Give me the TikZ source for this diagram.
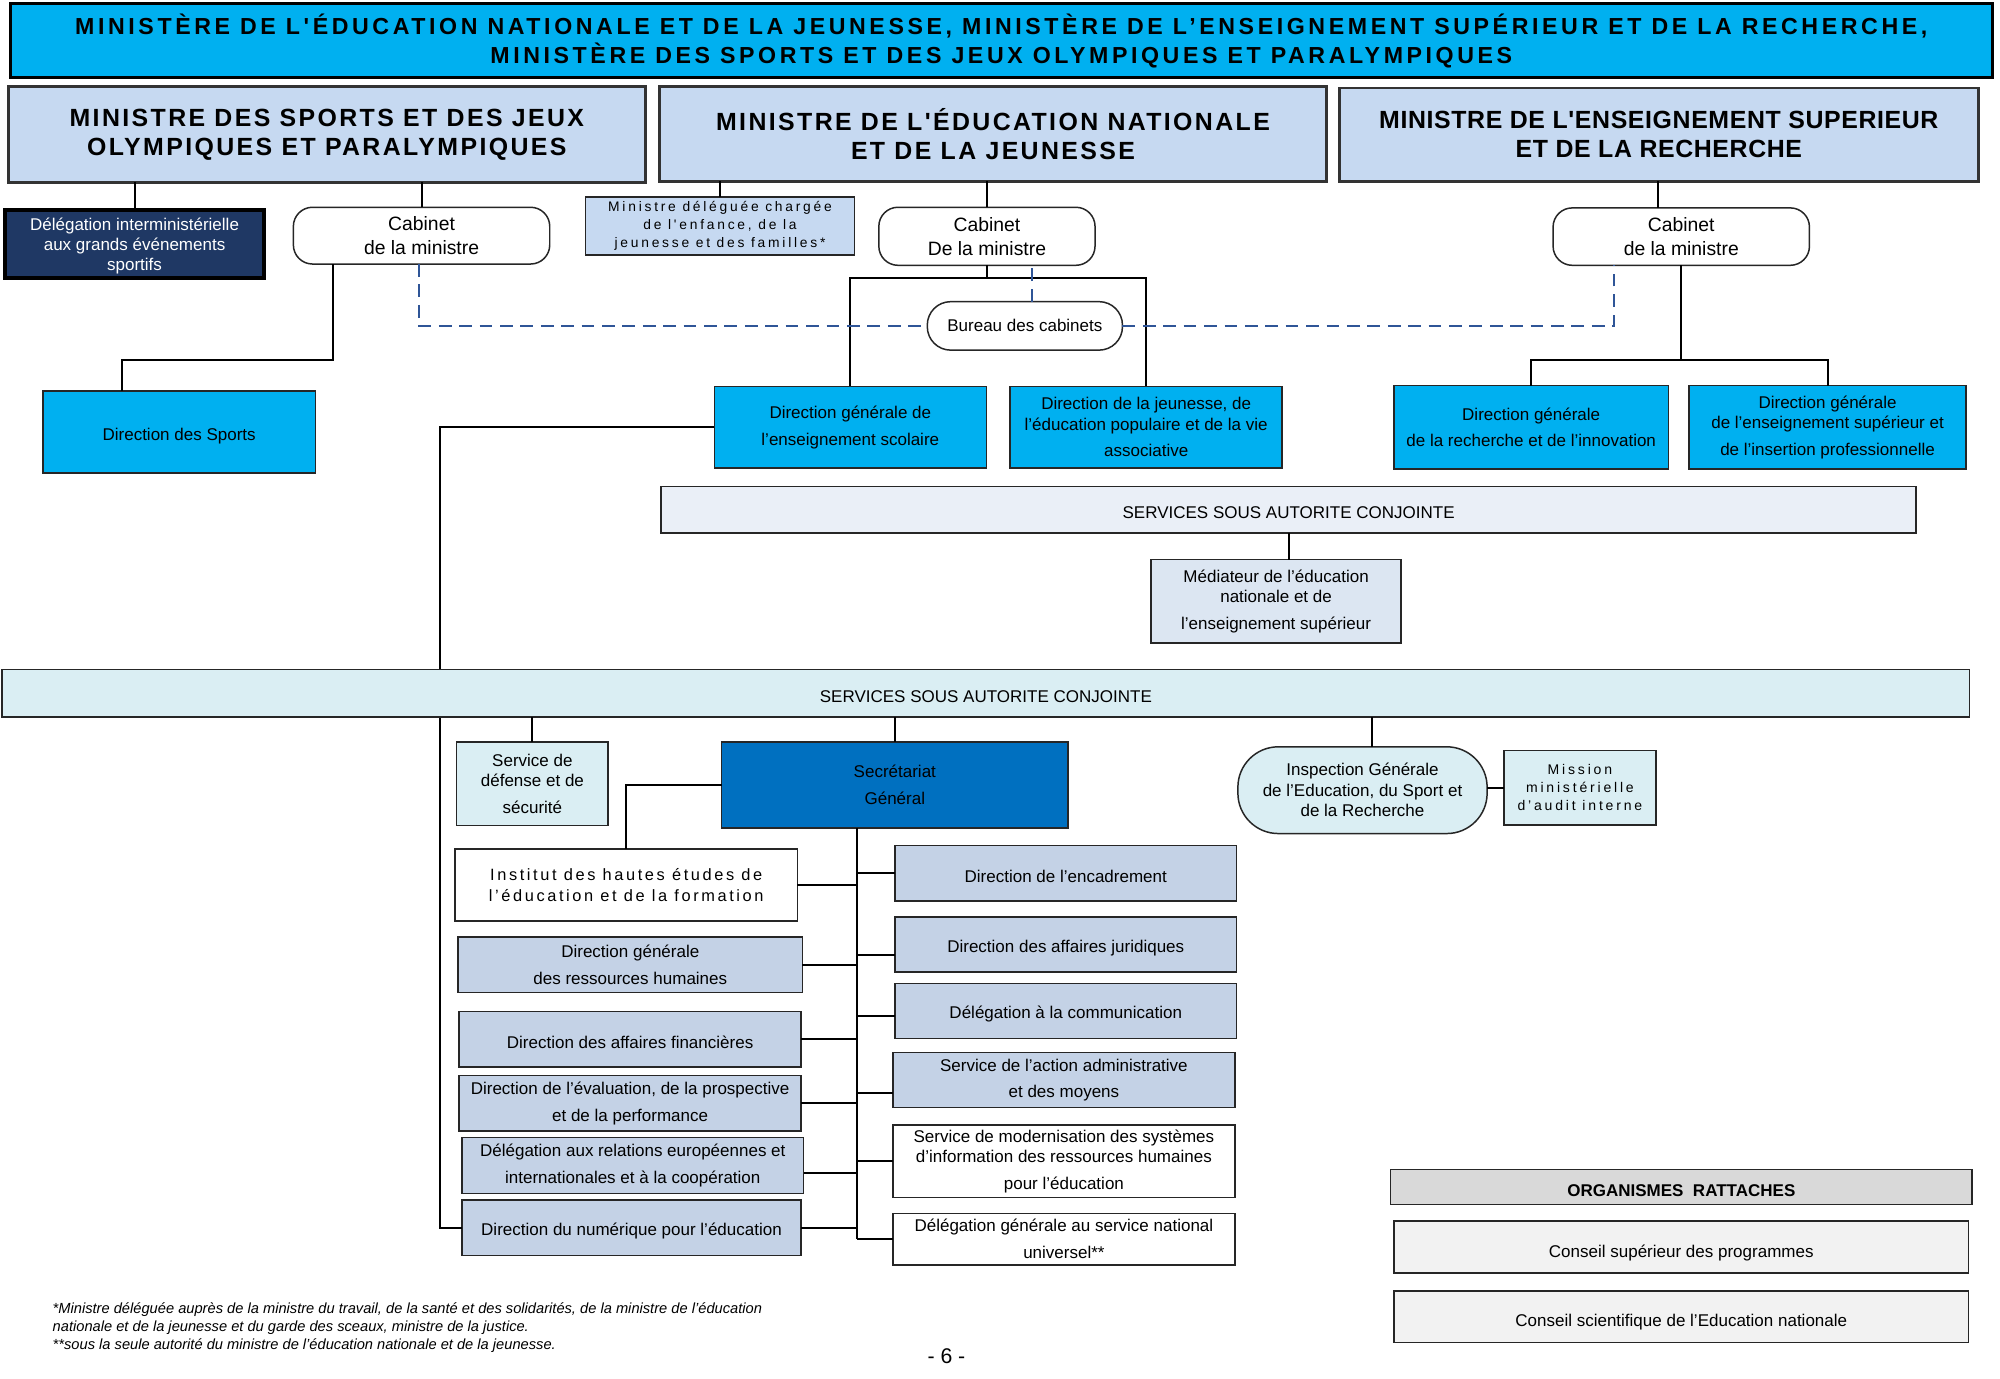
\documentclass[tikz,border=0pt]{standalone}
\usepackage{fontspec}
\setmainfont{Liberation Sans}
\newfontfamily\fTitle{Liberation Sans}[LetterSpace=15.5]
\newfontfamily\fMin{Liberation Sans}[LetterSpace=9.6]
\newfontfamily\fMinB{Liberation Sans}[LetterSpace=2.5]
\newfontfamily\fWide{Liberation Sans}[LetterSpace=20]
\newfontfamily\fInst{Liberation Sans}[LetterSpace=16]
\definecolor{cyanC}{HTML}{00B0F0}
\definecolor{minC}{HTML}{C6D9F1}
\definecolor{navyC}{HTML}{1F3864}
\definecolor{bar1C}{HTML}{EAEFF7}
\definecolor{medC}{HTML}{DCE6F2}
\definecolor{ltcyanC}{HTML}{DAEEF3}
\definecolor{sgC}{HTML}{0070C0}
\definecolor{gbC}{HTML}{C4D2E6}
\definecolor{orgHC}{HTML}{D9D9D9}
\definecolor{orgIC}{HTML}{F2F2F2}
\definecolor{dashC}{HTML}{2F5597}
\newcommand\mkbox[7]{\node[#6,minimum width={(#4-#2)*0.6pt},minimum height={(#5-#3)*0.6pt}] (#1) at ({(#2+#4)/2},{(#3+#5)/2}) {#7};}
\newcommand\lowr[2]{\raisebox{-#1}[\height][\depth]{#2}}
\begin{document}
\begin{tikzpicture}[x=0.6pt,y=-0.6pt,
  base/.style={draw=black!85, line width=0.7pt, inner sep=1pt, outer sep=0pt, align=center, font=\fontsize{8}{9.6}\selectfont},
  titlebox/.style={base, fill=cyanC, draw=black, line width=1.4pt, font=\fTitle\bfseries\fontsize{10.9}{13.8}\selectfont},
  minbox/.style={base, fill=minC, draw=black!80, line width=1.4pt, font=\fMin\bfseries\fontsize{11.7}{13.8}\selectfont},
  minboxB/.style={minbox, font=\fMinB\bfseries\fontsize{11.7}{13.8}\selectfont},
  navybox/.style={base, fill=navyC, draw=black, line width=1.6pt, text=white},
  cabbox/.style={base, fill=white, rounded corners=9pt, font=\fontsize{9.1}{11.4}\selectfont},
  mdelbox/.style={base, fill=minC, font=\fWide\fontsize{6.5}{8.4}\selectfont},
  burbox/.style={base, fill=white, rounded corners=11pt},
  cyanbox/.style={base, fill=cyanC},
  bar1/.style={base, fill=bar1C},
  medbox/.style={base, fill=medC},
  bar2/.style={base, fill=ltcyanC},
  ltcyan/.style={base, fill=ltcyanC},
  sgbox/.style={base, fill=sgC},
  igbox/.style={base, fill=ltcyanC, rounded corners=19pt},
  misbox/.style={base, fill=ltcyanC, font=\fWide\fontsize{6.6}{8.4}\selectfont},
  instbox/.style={base, fill=white, font=\fInst\fontsize{7.7}{9.6}\selectfont},
  gbbox/.style={base, fill=gbC},
  whitebox/.style={base, fill=white},
  orghead/.style={base, fill=orgHC, font=\bfseries\fontsize{8}{9.6}\selectfont},
  orgitem/.style={base, fill=orgIC},
  conn/.style={draw=black, line width=0.9pt},
  dashc/.style={draw=dashC, line width=0.9pt, dash pattern=on 6pt off 3.6pt}
]
\useasboundingbox (0,0) rectangle (1568,1081);
\fill[white] (0,0) rectangle (1568,1081);

% title
\mkbox{title}{8}{3}{1562}{61}{titlebox}{MINISTÈRE DE L'ÉDUCATION NATIONALE ET DE LA JEUNESSE, MINISTÈRE DE L’ENSEIGNEMENT SUPÉRIEUR ET DE LA RECHERCHE,\\MINISTÈRE DES SPORTS ET DES JEUX OLYMPIQUES ET PARALYMPIQUES}

% ministers
\mkbox{msp}{6.5}{68}{506}{143}{minbox}{MINISTRE DES SPORTS ET DES JEUX\\OLYMPIQUES ET PARALYMPIQUES}
\mkbox{med}{517}{68}{1040}{142}{minbox}{MINISTRE DE L'ÉDUCATION NATIONALE\\ET DE LA JEUNESSE}
\mkbox{mes}{1050}{69}{1551}{142}{minboxB}{MINISTRE DE L'ENSEIGNEMENT SUPERIEUR\\ET DE LA RECHERCHE}

% second row
\mkbox{dim}{4}{164.5}{207}{218}{navybox}{\lowr{1pt}{Délégation interministérielle}\\\lowr{1pt}{aux grands événements}\\\lowr{1pt}{sportifs}}
\mkbox{cabS}{230}{162.5}{431}{207}{cabbox}{Cabinet\\de la ministre}
\mkbox{mdel}{459}{154.6}{670}{200}{mdelbox}{Ministre déléguée chargée\\de l'enfance, de la\\jeunesse et des familles*}
\mkbox{cabE}{689}{162.5}{858.5}{208}{cabbox}{Cabinet\\De la ministre}
\mkbox{cabR}{1217.6}{163}{1418.6}{208}{cabbox}{Cabinet\\de la ministre}
\mkbox{bur}{727}{236.5}{880}{274.5}{burbox}{Bureau des cabinets}

% third row
\mkbox{dsp}{33.6}{306.4}{247.3}{371}{cyanbox}{\lowr{1.8pt}{Direction des Sports}}
\mkbox{dgesco}{560}{303}{773.3}{367}{cyanbox}{Direction générale de\\[3pt]l’enseignement scolaire}
\mkbox{djepva}{792}{303}{1005.2}{367}{cyanbox}{Direction de la jeunesse, de\\l’éducation populaire et de la vie\\[3pt]associative}
\mkbox{dgri}{1092.7}{302.4}{1308.2}{367.7}{cyanbox}{Direction générale\\[3pt]de la recherche et de l’innovation}
\mkbox{dgesip}{1324.1}{302.4}{1541.5}{367.7}{cyanbox}{Direction générale\\de l’enseignement supérieur et\\[3pt]de l’insertion professionnelle}

% services 1
\mkbox{sv1}{518.2}{381.3}{1502.3}{417.9}{bar1}{\lowr{1.5pt}{SERVICES SOUS AUTORITE CONJOINTE}}
\mkbox{medi}{902.4}{438.8}{1098.5}{504}{medbox}{Médiateur de l’éducation\\nationale et de\\[3pt]l’enseignement supérieur}

% left column (defined before bar 2)
\mkbox{inst}{356.7}{665.5}{625.2}{722.1}{instbox}{Institut des hautes études de\\l’éducation et de la formation}
\mkbox{dgrh}{359.2}{734.7}{629.1}{778.3}{gbbox}{Direction générale\\[3pt]des ressources humaines}
\mkbox{daf}{360}{793.2}{628}{836.5}{gbbox}{\lowr{1.5pt}{Direction des affaires financières}}
\mkbox{depp}{360}{843.1}{628}{886.7}{gbbox}{Direction de l’évaluation, de la prospective\\[3pt]et de la performance}
\mkbox{dreic}{362.2}{891.9}{630}{935.5}{gbbox}{Délégation aux relations européennes et\\[3pt]internationales et à la coopération}
\mkbox{dne}{362.2}{940.7}{628}{984.1}{gbbox}{\lowr{1.5pt}{Direction du numérique pour l’éducation}}

\coordinate (lx) at (345,0);
\draw[conn] (dgesco.west) -- (dgesco.west -| lx) -- (dne.west -| lx) -- (dne.west);

% services 2
\mkbox{sv2}{1.7}{525}{1544.1}{562.3}{bar2}{\lowr{1.5pt}{SERVICES SOUS AUTORITE CONJOINTE}}
\mkbox{sds}{358}{581.6}{476.8}{647}{ltcyan}{Service de\\défense et de\\[3pt]sécurité}
\mkbox{sg}{565.8}{581.6}{837.3}{649.3}{sgbox}{Secrétariat\\[3pt]Général}
\mkbox{ig}{970.5}{585.5}{1165.9}{653.5}{igbox}{Inspection Générale\\de l'Education, du Sport et\\de la Recherche}
\mkbox{mis}{1179.2}{588.2}{1298.1}{646.7}{misbox}{Mission\\ministérielle\\d’audit interne}

% right column
\mkbox{denc}{701.7}{662.9}{969.4}{706.5}{gbbox}{\lowr{1.5pt}{Direction de l’encadrement}}
\mkbox{daj}{701.7}{719}{969.4}{762.1}{gbbox}{\lowr{1.5pt}{Direction des affaires juridiques}}
\mkbox{dcom}{701.7}{771}{969.4}{814.3}{gbbox}{\lowr{1.5pt}{Délégation à la communication}}
\mkbox{saam}{700}{825.3}{968.2}{868.4}{gbbox}{Service de l’action administrative\\[3pt]et des moyens}
\mkbox{sirh}{700}{882}{968.2}{938.9}{whitebox}{Service de modernisation des systèmes\\d’information des ressources humaines\\[3pt]pour l’éducation}
\mkbox{dsnu}{700}{951.2}{968.2}{991.7}{whitebox}{Délégation générale au service national\\[3pt]universel**}

% organismes
\mkbox{org}{1090.3}{916.7}{1546}{944.2}{orghead}{\lowr{2pt}{ORGANISMES\ \ RATTACHES}}
\mkbox{csp}{1092.8}{957.2}{1543.4}{998.2}{orgitem}{\lowr{2.6pt}{Conseil supérieur des programmes}}
\mkbox{csen}{1092.8}{1012}{1543.4}{1052.5}{orgitem}{\lowr{2.6pt}{Conseil scientifique de l’Education nationale}}

% connectors top
\draw[conn] (dim.north) -- (dim.north |- msp.south);
\draw[conn] (cabS.north) -- (cabS.north |- msp.south);
\draw[conn] (mdel.north) -- (mdel.north |- med.south);
\draw[conn] (cabE.north) -- (cabE.north |- med.south);
\draw[conn] ([xshift=-10.8pt]cabR.north) -- ([xshift=-10.8pt]cabR.north |- mes.south);

\coordinate (sA) at (261,282);
\coordinate (sB) at (96,282);
\draw[conn] (cabS.south -| sA) -- (sA) -- (sB) -- (dsp.north -| sB);

\coordinate (eT) at (774,218);
\draw[conn] (cabE.south) -- (cabE.south |- eT);
\draw[conn] (dgesco.north) |- (eT) -| (djepva.north);

\coordinate (rT) at (1319,282);
\draw[conn] (cabR.south) -- (cabR.south |- rT);
\draw[conn] (dgri.north) |- (rT) -| (dgesip.north);

\draw[dashc] ([xshift=-1.2pt]cabS.south) |- (bur.west);
\draw[dashc] ([xshift=3.4pt]bur.north) -- ([xshift=3.4pt]bur.north |- cabE.south);
\draw[dashc] (bur.east) -| ([xshift=-31.8pt]cabR.south);

\draw[conn] (sv1.south) -- (sv1.south |- medi.north);

% connectors below bar 2
\draw[conn] (sds.north) -- (sds.north |- sv2.south);
\draw[conn] (sg.north) -- (sg.north |- sv2.south);
\draw[conn] ([xshift=4.6pt]ig.north) -- ([xshift=4.6pt]ig.north |- sv2.south);
\draw[conn] (mis.west) -- (mis.west -| ig.east);
\draw[conn] (sg.west) -| (inst.north);

\coordinate (bt) at ([xshift=-17.8pt]sg.south);
\draw[conn] (bt) -- (bt |- dsnu.west);
\foreach \n in {inst,dgrh,daf,depp,dne} \draw[conn] (\n.east) -- (\n.east -| bt);
\draw[conn] ([yshift=-3.6pt]dreic.east) -- ([yshift=-3.6pt]dreic.east -| bt);
\foreach \n/\s in {denc/0,daj/-4.8,dcom/-2.4,saam/-6,sirh/0,dsnu/0}
  \draw[conn] ([yshift=\s pt]\n.west) -- ([yshift=\s pt]\n.west -| bt);

% footnotes
\node[anchor=west, align=left, inner sep=0pt, font=\itshape\fontsize{6.9}{8.4}\selectfont] (fn) at (41,1041)
 {*Ministre déléguée auprès de la ministre du travail, de la santé et des solidarités, de la ministre de l’éducation\\
  nationale et de la jeunesse et du garde des sceaux, ministre de la justice.\\
  **sous la seule autorité du ministre de l’éducation nationale et de la jeunesse.};
\node[font=\fontsize{10}{12}\selectfont, inner sep=0pt] (pg) at (742,1063) {- 6 -};
\end{tikzpicture}
\end{document}
